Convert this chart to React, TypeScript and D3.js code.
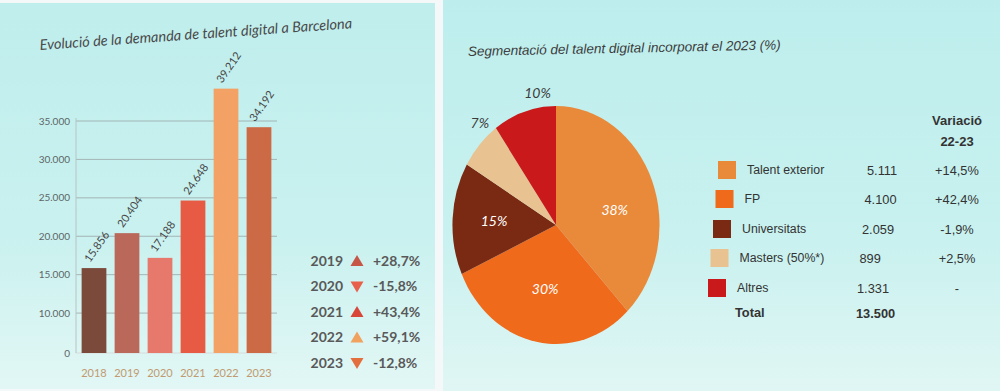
import React from 'react';
import * as d3 from 'd3';

// ---- Data: left chart ----
const years = ['2018', '2019', '2020', '2021', '2022', '2023'];
const demand = [15856, 20404, 17188, 24648, 39212, 34192];
const yTicks = [0, 10000, 15000, 20000, 25000, 30000, 35000];

// ---- Data: right chart ----
const segments = ['Talent exterior', 'FP', 'Universitats', 'Masters (50%*)', 'Altres'];
const segmentValues = [5111, 4100, 2059, 899, 1331];
const segmentVariation = ['+14,5%', '+42,4%', '-1,9%', '+2,5%', '-'];

// ---- Styles ----
const barColors = ['#7b4a3a', '#b9685a', '#e6796b', '#e75a44', '#f3a164', '#cc6a45'];
const changeColors = ['#c65646', '#e9604a', '#d8463a', '#f0a25e', '#e36e3e'];
const segmentColors = ['#e98a3b', '#f06a1c', '#7a2a12', '#e9c291', '#c9191a'];

const locale = d3.formatLocale({ decimal: ',', thousands: '.', grouping: [3], currency: ['', '€'], minus: '-' });
const fmtInt = locale.format(',d');
const fmtPct = locale.format('+.1f');

export default function App() {
  // Left chart scales (the reference axis is broken between 0 and 5.000)
  const x = d3.scaleBand<string>().domain(years).range([78, 275]).paddingInner(0.25).paddingOuter(0.11);
  const y = d3.scaleLinear().domain([0, 5000, 35000]).range([353, 351.5, 121]);

  const changes = demand.slice(1).map((v, i) => (v / demand[i] - 1) * 100);

  // Pie
  const total = d3.sum(segmentValues);
  const pie = d3.pie<number>().sort(null).value((d) => d)(segmentValues);
  const R = 119;
  const arc = d3.arc<d3.PieArcDatum<number>>().innerRadius(0).outerRadius(R);
  const cx = 556, cy = 225, sx = 0.87;
  const labelR = [0.58, 0.55, 0.6, 1.13, 1.12];
  const labelShift = [0.17, 0, 0, 0.12, 0.15];
  const labelInside = [true, true, true, false, false];

  const tri = (up: boolean) => (up ? 'M0,-6 L6.5,5 L-6.5,5 Z' : 'M0,6 L6.5,-5 L-6.5,-5 Z');

  const tableRowsY = [170, 199, 229, 258, 288];
  const sans = "'Liberation Sans', Arial, sans-serif";

  return (
    <svg width={1000} height={391} style={{ position: 'absolute', left: 0, top: 0 }}>
      <defs>
        <linearGradient id="bgL" x1="0" y1="0" x2="0" y2="1">
          <stop offset="0" stopColor="#bfeeed" />
          <stop offset="0.6" stopColor="#c9f1ef" />
          <stop offset="1" stopColor="#e2f7f5" />
        </linearGradient>
        <linearGradient id="bgR" x1="0" y1="0" x2="0" y2="1">
          <stop offset="0" stopColor="#bdeeed" />
          <stop offset="0.6" stopColor="#c8f1ef" />
          <stop offset="1" stopColor="#e0f6f4" />
        </linearGradient>
      </defs>
      <rect x={0} y={0} width={1000} height={391} fill="#f4f8f8" />
      <rect x={0} y={3} width={435} height={386} fill="url(#bgL)" />
      <rect x={443} y={0} width={557} height={391} fill="url(#bgR)" />

      {/* ---- Left: bar chart ---- */}
      <text x={40} y={50} transform="rotate(-4 40 50)" fontFamily="Lato, sans-serif" fontSize={14.5}
        fill="#4a4a4a" fontStyle="italic">Evolució de la demanda de talent digital a Barcelona</text>

      {yTicks.map((t) => (
        <g key={t}>
          <line x1={76} x2={277} y1={y(t)} y2={y(t)} stroke={t === 0 ? '#d6dcdc' : '#9aa6a6'} strokeWidth={t === 0 ? 1.2 : 0.8} />
          <text x={70} y={y(t)} dy="0.35em" textAnchor="end" fontFamily="Lato, sans-serif" fontSize={10}
            fill="#5d6666">{t === 0 ? '0' : fmtInt(t)}</text>
        </g>
      ))}
      <line x1={76} x2={76} y1={118} y2={353} stroke="#b8c4c4" strokeWidth={1} />

      {years.map((yr, i) => (
        <g key={yr}>
          <rect x={x(yr)} y={y(demand[i])} width={x.bandwidth()} height={y(0) - y(demand[i])} fill={barColors[i]} />
          <text transform={`translate(${x(yr)! + x.bandwidth() / 2 - 4},${y(demand[i]) - 5}) rotate(-55)`}
            fontFamily="Lato, sans-serif" fontSize={11} fill="#454545">{fmtInt(demand[i])}</text>
          <text x={x(yr)! + x.bandwidth() / 2} y={377} textAnchor="middle" fontFamily="Lato, sans-serif"
            fontSize={11} fill="#c09a70">{yr}</text>
        </g>
      ))}

      {changes.map((c, i) => {
        const yy = 261 + i * 25.5;
        return (
          <g key={i}>
            <text x={343} y={yy} dy="0.35em" textAnchor="end" fontFamily="Lato, sans-serif" fontSize={14}
              fontWeight={700} fill="#595959">{years[i + 1]}</text>
            <path d={tri(c > 0)} transform={`translate(357,${yy})`} fill={changeColors[i]} />
            <text x={373} y={yy} dy="0.35em" fontFamily="Lato, sans-serif" fontSize={14} fontWeight={700}
              fill="#595959">{fmtPct(c) + '%'}</text>
          </g>
        );
      })}

      {/* ---- Right: pie chart ---- */}
      <text x={468} y={56} transform="rotate(-1.2 468 56)" fontFamily={sans}
        fontSize={13.5} fontStyle="italic" fill="#3c3c3c">Segmentació del talent digital incorporat el 2023 (%)</text>

      <g transform={`translate(${cx},${cy}) scale(${sx},1)`}>
        {pie.map((p, i) => (
          <path key={i} d={arc(p)!} fill={segmentColors[i]} />
        ))}
      </g>
      {pie.map((p, i) => {
        const a = (p.startAngle + p.endAngle) / 2 + labelShift[i];
        const r = R * labelR[i];
        const lx = cx + Math.sin(a) * r * sx;
        const ly = cy - Math.cos(a) * r;
        return (
          <text key={i} x={lx} y={ly} dy="0.35em" textAnchor="middle" fontFamily="Lato, sans-serif"
            fontStyle="italic" fontSize={14} fill={labelInside[i] ? '#ffffff' : '#3c3c3c'}>
            {Math.round((segmentValues[i] / total) * 100) + '%'}
          </text>
        );
      })}

      {/* ---- Right: table ---- */}
      <text x={957} y={125} textAnchor="middle" fontFamily={sans} fontSize={13}
        fontWeight={700} fill="#333">Variació</text>
      <text x={957} y={146} textAnchor="middle" fontFamily={sans} fontSize={13}
        fontWeight={700} fill="#333">22-23</text>

      {segments.map((s, i) => {
        const yy = tableRowsY[i];
        const shift = i * 2.5;
        return (
          <g key={s}>
            <rect x={718 - shift} y={yy - 9} width={18} height={18} fill={segmentColors[i]} />
            <text x={747 - shift} y={yy} dy="0.35em" fontFamily={sans}
              fontSize={12.3} fill="#333">{s}</text>
            <text x={867 - shift} y={yy + 1} dy="0.35em" fontFamily={sans}
              fontSize={12.8} fill="#333">{fmtInt(segmentValues[i])}</text>
            <text x={957} y={yy + 1} dy="0.35em" textAnchor="middle" fontFamily={sans}
              fontSize={12.8} fill="#333">{segmentVariation[i]}</text>
          </g>
        );
      })}
      <text x={735} y={313} dy="0.35em" fontFamily={sans} fontSize={12.8}
        fontWeight={700} fill="#333">Total</text>
      <text x={856} y={314} dy="0.35em" fontFamily={sans} fontSize={12.8}
        fontWeight={700} fill="#333">{fmtInt(total)}</text>
    </svg>
  );
}
